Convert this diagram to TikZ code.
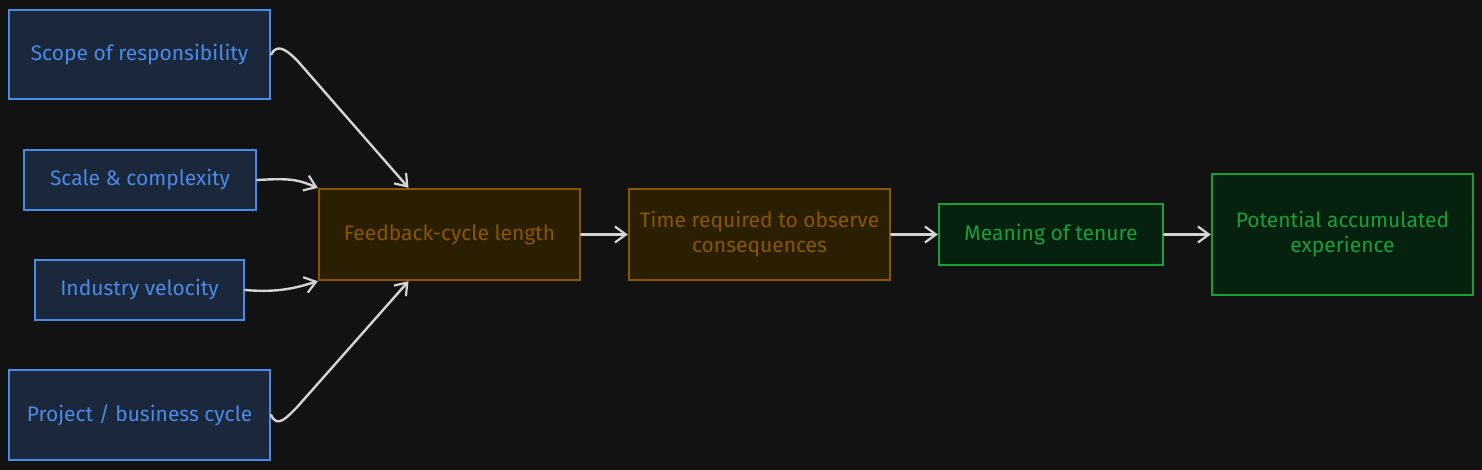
\documentclass[tikz,border=0pt]{standalone}
\usepackage{fontspec}
\setmainfont{Fira Sans}
\usetikzlibrary{arrows.meta}
\definecolor{bg}{HTML}{121212}
\definecolor{bstroke}{HTML}{4A8AE8}
\definecolor{bfill}{HTML}{1B273B}
\definecolor{ostroke}{HTML}{8A5600}
\definecolor{ofill}{HTML}{2A1F02}
\definecolor{gstroke}{HTML}{16A03C}
\definecolor{gfill}{HTML}{06220F}
\definecolor{arrc}{HTML}{D4D4D4}
\tikzset{
  box/.style={draw, line width=2.4pt, inner sep=2pt, align=center, font=\fontsize{21}{25}\selectfont},
  bluebox/.style={box, draw=bstroke, fill=bfill, text=bstroke},
  orangebox/.style={box, draw=ostroke, fill=ofill, text=ostroke},
  greenbox/.style={box, draw=gstroke, fill=gfill, text=gstroke},
  arr/.style={draw=arrc, line width=2.4pt, -{Straight Barb[length=11pt,width=16pt,line width=2.2pt]}, line cap=round}
}
\begin{document}
\begin{tikzpicture}[x=1pt,y=-1pt]
\fill[bg] (0,0) rectangle (1482,470);
\useasboundingbox (0,0) rectangle (1482,470);
\node[bluebox, minimum width=261pt, minimum height=89pt] (scope) at (139.5,54.5) {Scope of responsibility};
\node[bluebox, minimum width=232pt, minimum height=60pt] (scale) at (140,180) {Scale \& complexity};
\node[bluebox, minimum width=209pt, minimum height=60pt] (ind) at (139.5,290) {Industry velocity};
\node[bluebox, minimum width=261pt, minimum height=90pt] (proj) at (139.5,415) {Project / business cycle};
\node[orangebox, minimum width=261pt, minimum height=91pt] (fb) at (449.5,234.5) {Feedback-cycle length};
\node[orangebox, minimum width=261pt, minimum height=91pt] (time) at (759.5,234.5) {Time required to observe\\consequences};
\node[greenbox, minimum width=224pt, minimum height=61pt] (mean) at (1051,234.5) {Meaning of tenure};
\node[greenbox, minimum width=261pt, minimum height=121pt] (pot) at (1342.5,234.5) {Potential accumulated\\experience};
\draw[arr] (scope.east) .. controls +(6,-12) and +(-10,-10) .. ++(26,6) -- ([xshift=-41pt]fb.north);
\draw[arr] (scale.east) .. controls +(35,-2) and +(-20,-8) .. (fb.north west);
\draw[arr] (ind.east) .. controls +(35,3) and +(-20,6) .. (fb.south west);
\draw[arr] (proj.east) .. controls +(6,14) and +(-10,10) .. ++(26,-8) -- ([xshift=-41pt]fb.south);
\draw[arr] (fb.east) -- (time.west);
\draw[arr] (time.east) -- (mean.west);
\draw[arr] (mean.east) -- (pot.west);
\end{tikzpicture}
\end{document}
